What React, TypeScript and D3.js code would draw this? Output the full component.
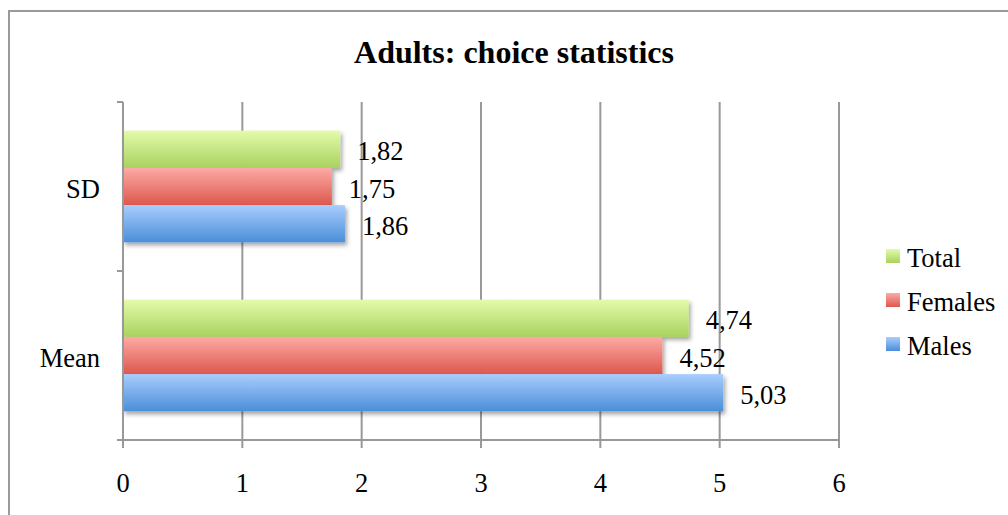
import React from "react";
import * as d3 from "d3";

// Chart data
const categories = ["SD", "Mean"];
const seriesNames = ["Total", "Females", "Males"];
const totalValues = [1.82, 4.74];
const femaleValues = [1.75, 4.52];
const maleValues = [1.86, 5.03];
const xTicks = [0, 1, 2, 3, 4, 5, 6];

const seriesValues: Record<string, number[]> = {
  Total: totalValues,
  Females: femaleValues,
  Males: maleValues,
};

const gradients: Record<string, [string, string]> = {
  Total: ["#e3fbab", "#a9d25e"],
  Females: ["#fdaaa6", "#dc584c"],
  Males: ["#a9cdfd", "#4a8ed8"],
};

const W = 1008;
const H = 515;
const FONT = "'Liberation Serif', 'Times New Roman', serif";
const margin = { left: 123, right: 169, top: 102, bottom: 75 };
const LABEL_SIZE = 26.5;

export default function App() {
  const x = d3.scaleLinear().domain([0, 6]).range([margin.left, W - margin.right]);
  const y = d3
    .scaleBand<string>()
    .domain(categories)
    .range([margin.top, H - margin.bottom])
    .padding(0);
  const inner = d3
    .scaleBand<string>()
    .domain(seriesNames)
    .range([0, y.bandwidth()])
    .paddingInner(0)
    .paddingOuter(0.77);

  const plotTop = margin.top;
  const plotBottom = H - margin.bottom;
  const gridColor = "#999";
  const fmt = (v: number) => v.toFixed(2).replace(".", ",");

  return (
    <svg
      width={W}
      height={H}
      style={{ position: "fixed", left: 0, top: 0, background: "#fff" }}
      fontFamily={FONT}
    >
      <defs>
        {seriesNames.map((s) => (
          <linearGradient key={s} id={`grad-${s}`} x1="0" y1="0" x2="0" y2="1">
            <stop offset="0%" stopColor={gradients[s][0]} />
            <stop offset="100%" stopColor={gradients[s][1]} />
          </linearGradient>
        ))}
        <filter id="shadow" x="-5%" y="-20%" width="115%" height="160%">
          <feDropShadow dx="2" dy="3" stdDeviation="2" floodColor="#000" floodOpacity="0.35" />
        </filter>
      </defs>

      {/* chart frame */}
      <rect x={9} y={11} width={W + 10} height={H + 10} fill="none" stroke="#9a9a9a" strokeWidth={2} />

      {/* title */}
      <text x={514} y={63} textAnchor="middle" fontSize={32} fontWeight="bold" fill="#000">
        Adults: choice statistics
      </text>

      {/* vertical gridlines */}
      {xTicks.slice(1).map((t) => (
        <line key={t} x1={x(t)} x2={x(t)} y1={plotTop} y2={plotBottom + 8} stroke={gridColor} strokeWidth={2} />
      ))}

      {/* bars */}
      {categories.map((c, ci) => (
        <g key={c}>
          {seriesNames.map((s) => {
            const v = seriesValues[s][ci];
            const y0 = (y(c) as number) + (inner(s) as number);
            return (
              <rect
                key={s}
                x={x(0)}
                y={y0}
                width={x(v) - x(0)}
                height={inner.bandwidth()}
                fill={`url(#grad-${s})`}
                filter="url(#shadow)"
              />
            );
          })}
        </g>
      ))}

      {/* data labels */}
      {categories.map((c, ci) =>
        seriesNames.map((s) => {
          const v = seriesValues[s][ci];
          const yc = (y(c) as number) + (inner(s) as number) + inner.bandwidth() / 2;
          return (
            <text key={c + s} x={x(v) + 17} y={yc + 11} fontSize={LABEL_SIZE} fill="#000">
              {fmt(v)}
            </text>
          );
        })
      )}

      {/* value axis (left) */}
      <line x1={x(0)} x2={x(0)} y1={plotTop} y2={plotBottom + 8} stroke={gridColor} strokeWidth={2} />
      {[plotTop, (y("Mean") as number), plotBottom].map((yy, i) => (
        <line key={i} x1={x(0) - 6} x2={x(0)} y1={yy} y2={yy} stroke={gridColor} strokeWidth={2} />
      ))}

      {/* bottom axis */}
      <line x1={x(0) - 6} x2={x(6)} y1={plotBottom} y2={plotBottom} stroke={gridColor} strokeWidth={2} />

      {/* x tick labels */}
      {xTicks.map((t) => (
        <text key={t} x={x(t)} y={492} textAnchor="middle" fontSize={LABEL_SIZE} fill="#000">
          {t}
        </text>
      ))}

      {/* category labels */}
      {categories.map((c) => (
        <text
          key={c}
          x={100}
          y={(y(c) as number) + y.bandwidth() / 2 + 11}
          textAnchor="end"
          fontSize={LABEL_SIZE}
          fill="#000"
        >
          {c}
        </text>
      ))}

      {/* legend */}
      {seriesNames.map((s, i) => (
        <g key={s} transform={`translate(886, ${249 + i * 44})`}>
          <rect x={0} y={0} width={14} height={14} fill={`url(#grad-${s})`} />
          <text x={21} y={17.5} fontSize={LABEL_SIZE} fill="#000">
            {s}
          </text>
        </g>
      ))}
    </svg>
  );
}
